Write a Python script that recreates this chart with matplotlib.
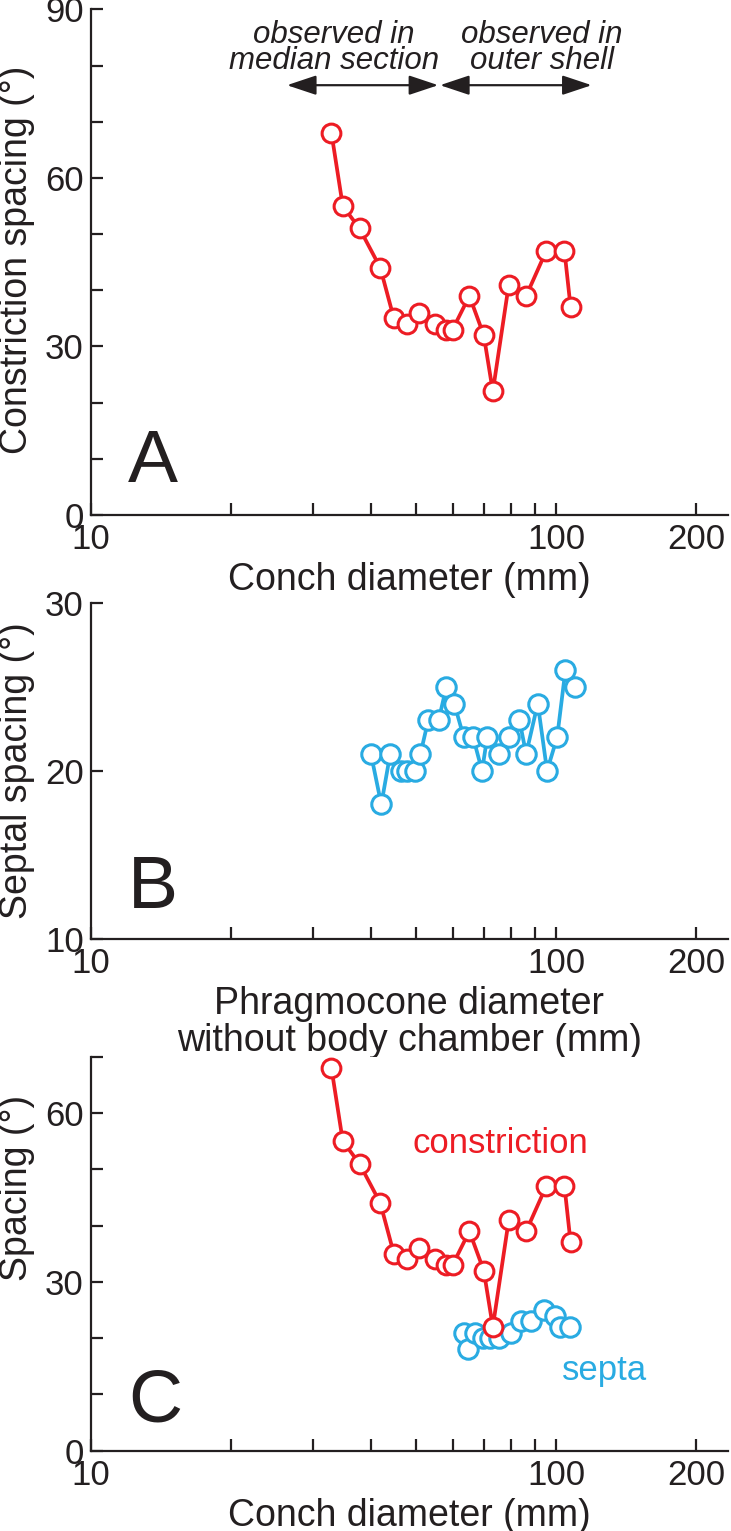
"""Constriction / septal spacing vs. diameter - three stacked panels"""
import matplotlib
matplotlib.use('Agg')
import matplotlib.pyplot as plt

plt.rcParams['font.family'] = ['Liberation Sans', 'DejaVu Sans']

# data
cons_x = [32.9, 34.8, 37.8, 41.9, 44.8, 47.8, 50.8, 54.8, 58.0, 59.9, 65.1, 69.9,
          73.1, 79.1, 86.2, 95.2, 104.2, 107.4]
cons_y = [68, 55, 51, 44, 35, 34, 36, 34, 33, 33, 39, 32, 22, 41, 39, 47, 47, 37]

phrag_x = [40.0, 42.1, 44.0, 46.3, 47.8, 49.8, 51.1, 53.1, 55.9, 58.1, 60.4, 63.3,
           66.3, 69.3, 71.1, 75.3, 79.1, 83.4, 86.2, 91.3, 95.6, 100.5, 104.7, 109.6]
sept_y = [21, 18, 21, 20, 20, 20, 21, 23, 23, 25, 24, 22, 22, 20, 22, 21, 22, 23,
          21, 24, 20, 22, 26, 25]

septc_x = [63.5, 64.5, 67.0, 69.5, 72.0, 75.5, 80.0, 84.0, 88.5, 94.0, 99.5, 102.0, 107.0]
septc_y = [21, 18, 21, 20, 20, 20, 21, 23, 23, 25, 24, 22, 22]

x_ticks = [10, 20, 30, 40, 50, 60, 70, 80, 90, 100, 200]
x_labels = ['10', '', '', '', '', '', '', '', '', '100', '200']

RED = '#ED1C24'
BLUE = '#29ABE2'
INK = '#231F20'

fig = plt.figure(figsize=(7.31, 15.31), dpi=100)
left, width = 0.1241, 0.8718
ax_a = fig.add_axes([left, 0.6636, width, 0.3303])
ax_b = fig.add_axes([left, 0.3867, width, 0.2197])
ax_c = fig.add_axes([left, 0.05245, width, 0.2573])


def style_axis(ax, ylim, yticks, ylabels, xlabel, ylabel, ylab_y):
    ax.set_xscale('log')
    ax.set_xlim(10, 234)
    ax.set_ylim(*ylim)
    ax.set_xticks(x_ticks)
    ax.set_xticklabels(x_labels)
    ax.minorticks_off()
    ax.set_yticks(yticks)
    ax.set_yticklabels(ylabels)
    for s in ['top', 'right']:
        ax.spines[s].set_visible(False)
    for s in ['left', 'bottom']:
        ax.spines[s].set_linewidth(1.6)
        ax.spines[s].set_color(INK)
    ax.tick_params(axis='both', direction='in', length=8.6, width=1.6,
                   colors=INK, labelsize=25)
    ax.tick_params(axis='x', pad=6)
    ax.tick_params(axis='y', pad=5)
    ax.set_xlabel(xlabel, fontsize=27, color=INK, labelpad=4, linespacing=1.05)
    ax.set_ylabel(ylabel, fontsize=27, color=INK)
    ax.yaxis.set_label_coords(-0.087, ylab_y)


# A: constriction spacing
ax_a.plot(cons_x, cons_y, '-o', color=RED, lw=2.7, ms=13.5, mew=2.2,
          mfc='white', mec=RED, zorder=3)
style_axis(ax_a, (0, 90), range(0, 91, 10),
           ['0', '', '', '30', '', '', '60', '', '', '90'],
           'Conch diameter (mm)', 'Constriction spacing (°)', 0.505)
ax_a.text(0.0585, 0.065, 'A', transform=ax_a.transAxes, fontsize=54,
          color=INK, va='baseline', ha='left')

arrow = dict(arrowstyle='<|-|>,head_length=1.2,head_width=0.4', color=INK,
             lw=1.6, shrinkA=0, shrinkB=0, mutation_scale=15)
ax_a.annotate('', xy=(26.4, 76.5), xytext=(55.8, 76.5), arrowprops=arrow)
ax_a.annotate('', xy=(56.3, 76.5), xytext=(119.2, 76.5), arrowprops=arrow)
ax_a.text(0.382, 0.934, 'observed in', transform=ax_a.transAxes, fontsize=22.5,
          style='italic', color=INK, ha='center', va='baseline')
ax_a.text(0.382, 0.883, 'median section', transform=ax_a.transAxes, fontsize=22.5,
          style='italic', color=INK, ha='center', va='baseline')
ax_a.text(0.708, 0.934, 'observed in', transform=ax_a.transAxes, fontsize=22.5,
          style='italic', color=INK, ha='center', va='baseline')
ax_a.text(0.708, 0.883, 'outer shell', transform=ax_a.transAxes, fontsize=22.5,
          style='italic', color=INK, ha='center', va='baseline')

# B: septal spacing
ax_b.plot(phrag_x, sept_y, '-o', color=BLUE, lw=2.7, ms=14, mew=2.2,
          mfc='white', mec=BLUE, zorder=3)
style_axis(ax_b, (10, 30), [10, 20, 30], ['10', '20', '30'],
           'Phragmocone diameter\nwithout body chamber (mm)',
           'Septal spacing (°)', 0.5)
ax_b.text(0.0585, 0.091, 'B', transform=ax_b.transAxes, fontsize=54,
          color=INK, va='baseline', ha='left')

# C: both
ax_c.plot(septc_x, septc_y, '-o', color=BLUE, lw=2.7, ms=14, mew=2.2,
          mfc='white', mec=BLUE, zorder=3)
ax_c.plot(cons_x, cons_y, '-o', color=RED, lw=2.7, ms=13.5, mew=2.2,
          mfc='white', mec=RED, zorder=4)
style_axis(ax_c, (0, 70), range(0, 71, 10),
           ['0', '', '', '30', '', '', '60', ''],
           'Conch diameter (mm)', 'Spacing (°)', 0.668)
ax_c.text(0.0585, 0.073, 'C', transform=ax_c.transAxes, fontsize=54,
          color=INK, va='baseline', ha='left')
ax_c.text(75.7, 52.9, 'constriction', color=RED, fontsize=25,
          ha='center', va='baseline')
ax_c.text(102.7, 12.6, 'septa', color=BLUE, fontsize=25,
          ha='left', va='baseline')

fig.savefig('out.png', dpi=100)
